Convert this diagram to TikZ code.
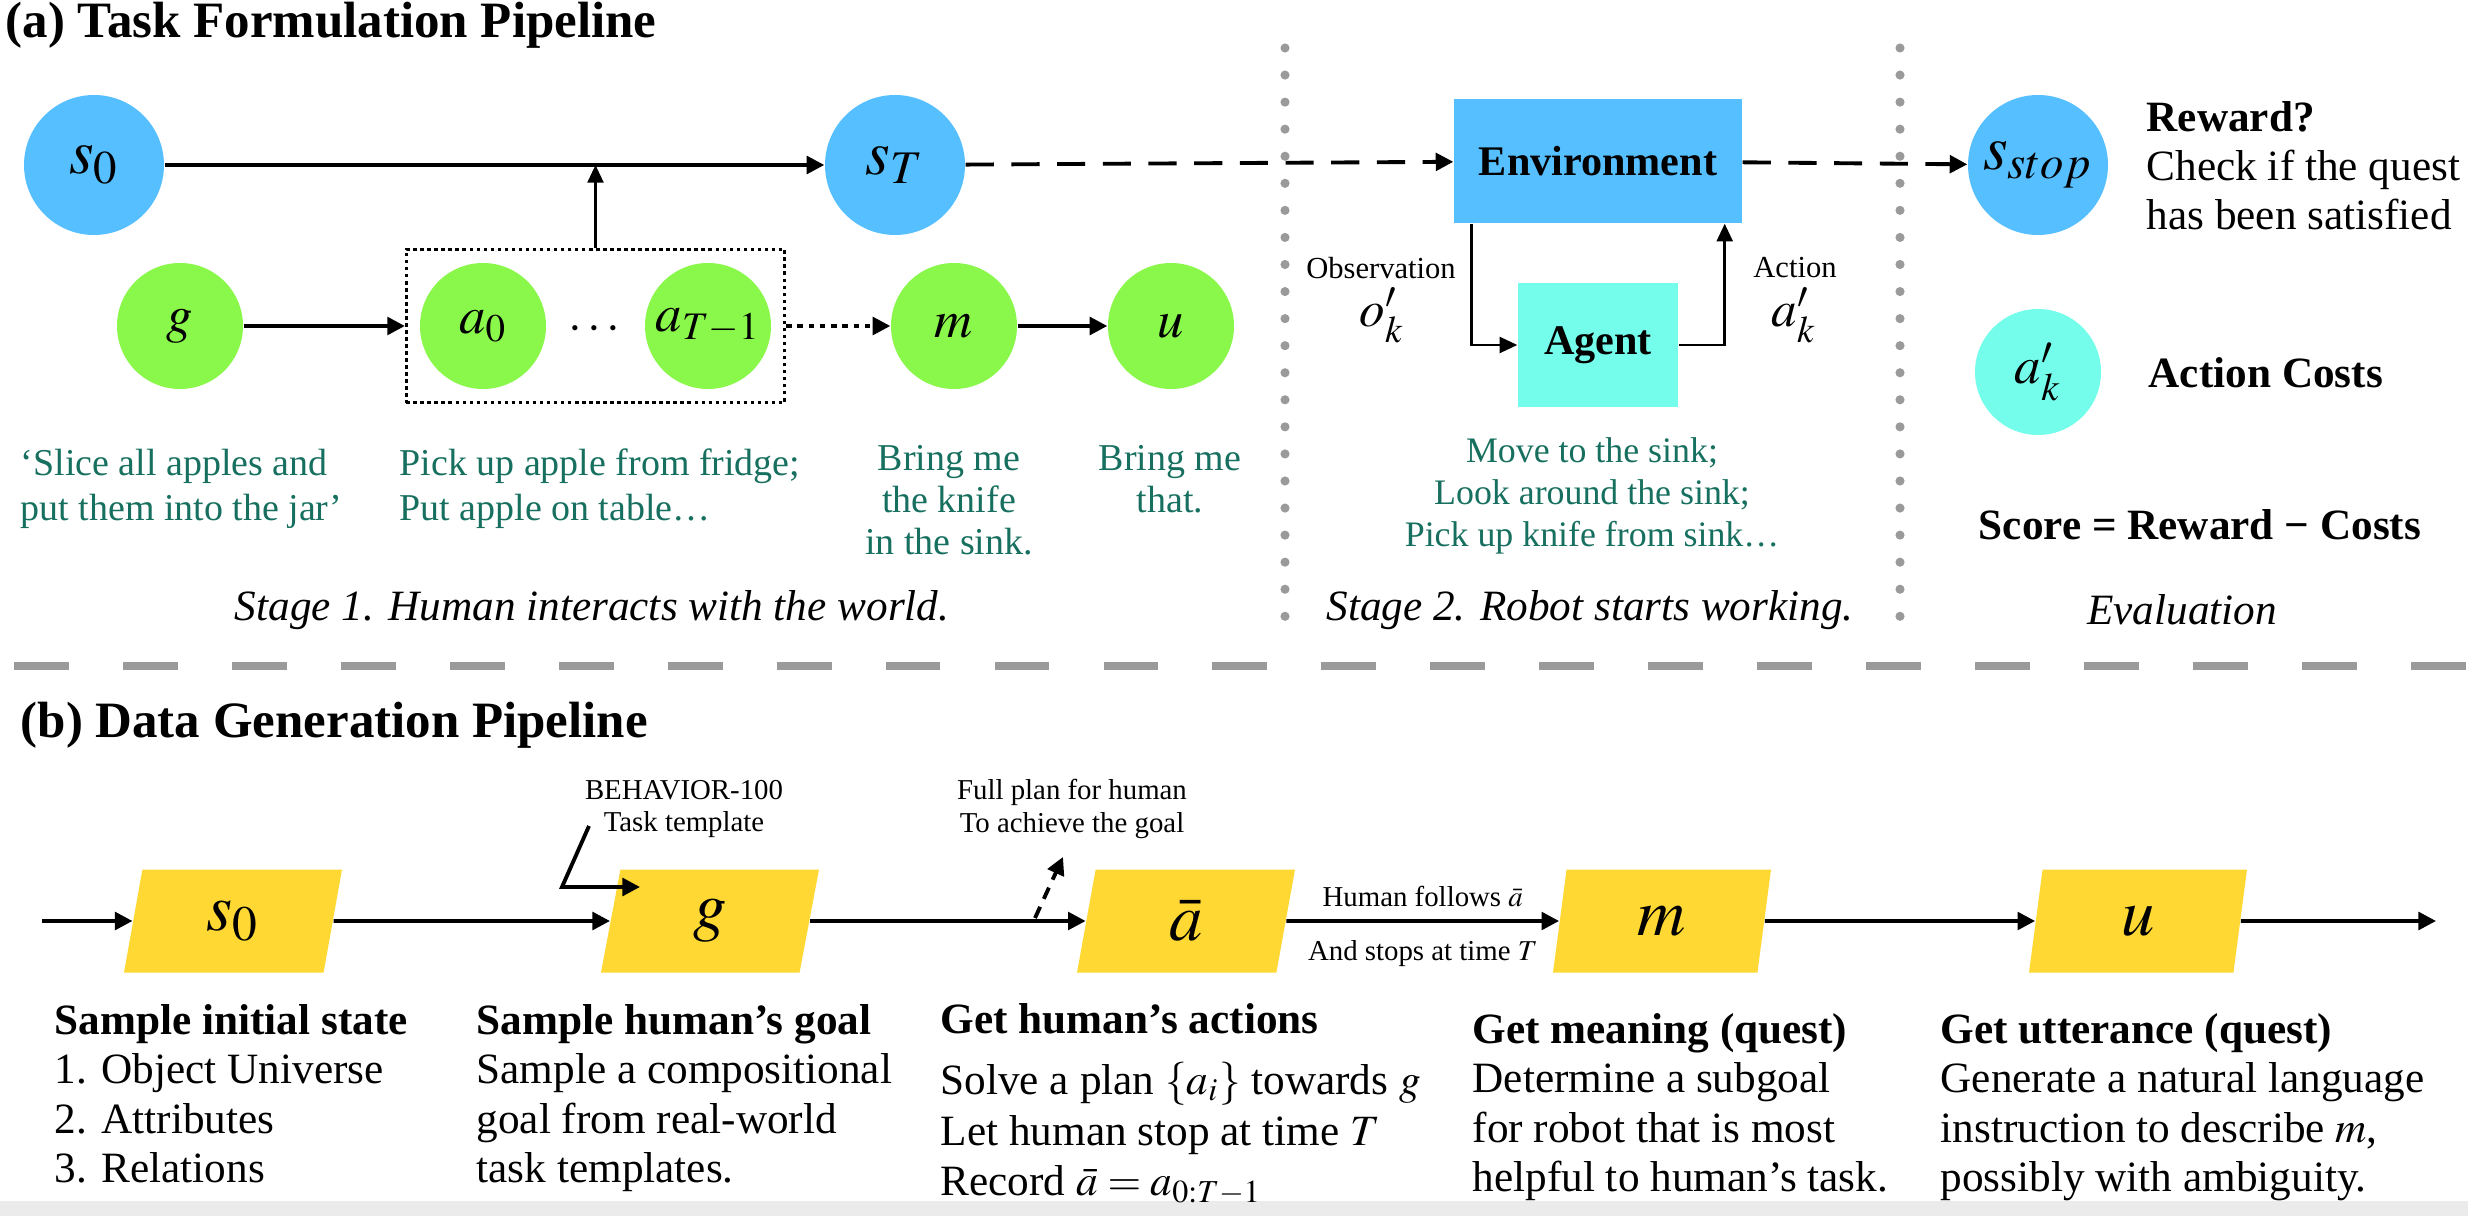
\documentclass[tikz,border=0pt]{standalone}
\usepackage{mathptmx}
\usepackage[no-math]{fontspec}
\setmainfont{Liberation Serif}
\usetikzlibrary{arrows.meta,shapes.geometric,fit,positioning}

\definecolor{stateblue}{HTML}{56BFFF}
\definecolor{actgreen}{HTML}{8AF74B}
\definecolor{agentcyan}{HTML}{73FDEA}
\definecolor{plgold}{HTML}{FFD833}
\definecolor{uttteal}{HTML}{17705F}
\definecolor{sepgray}{HTML}{9A9A9A}

\newcommand{\sz}[2]{\fontsize{#1}{#2}\selectfont}

\begin{document}
\begin{tikzpicture}[
  state/.style={circle, fill=stateblue, minimum size=1.4cm, inner sep=0pt, font=\sz{18}{20}},
  act/.style={circle, fill=actgreen, minimum size=1.26cm, inner sep=0pt, font=\sz{15}{17}},
  box/.style={rectangle, minimum height=1.24cm, inner sep=0pt, font=\sz{12}{14}\bfseries},
  plg/.style={trapezium, trapezium left angle=65.5, trapezium right angle=114.5,
    trapezium stretches body, fill=plgold, minimum width=2.18cm, minimum height=1.03cm,
    inner sep=0pt, font=\sz{19}{21}},
  flow/.style={line width=1.1pt, -{Triangle[length=5pt,width=5pt]}},
  ctrl/.style={line width=0.75pt, -{Triangle[length=5pt,width=4.5pt]}},
  dashflow/.style={flow, dash pattern=on 8pt off 5pt},
  dotflow/.style={flow, dash pattern=on 1.6pt off 1.6pt},
  say/.style={text=uttteal, inner sep=0pt},
  note/.style={inner sep=0pt, font=\sz{12.3}{14}},
  small/.style={inner sep=0pt, font=\sz{8.2}{9.2}},
]
  \useasboundingbox (0,0) rectangle (24.68,-12.16);
  \fill[black!8] (0,-12.01) rectangle (24.68,-12.16);

  % (a) Task formulation
  \node[note, anchor=west, font=\sz{14.5}{17}\bfseries] (ta) at (0.05,-0.25) {(a) Task Formulation Pipeline};

  % States
  \node[state] (s0) at (0.94,-1.65) {$s_0$};
  \node[state] (sT) at (8.95,-1.65) {$s_T$};
  \node[state] (sstop) at (20.38,-1.65) {$s_{stop}$};

  % Human side
  \node[act] (g) at (1.80,-3.26) {$g$};
  \node[act] (a0) at (4.83,-3.26) {$a_0$};
  \node[font=\sz{14}{16}] (dots) at (5.94,-3.30) {$\cdots$};
  \node[act] (aT) at (7.08,-3.26) {$a_{T-1}$};
  \node[act] (m) at (9.54,-3.26) {$m$};
  \node[act] (u) at (11.71,-3.26) {$u$};
  \node[draw, line width=0.8pt, dash pattern=on 1pt off 1pt, fit=(a0)(aT), inner sep=0.13cm] (plan) {};

  % Robot side
  \node[box, fill=stateblue, minimum width=2.88cm] (env) at (15.98,-1.61) {Environment};
  \node[box, fill=agentcyan, minimum width=1.60cm] (agent) at (15.98,-3.45) {Agent};
  \node[small, font=\sz{8.7}{10}] (obs) at (13.81,-2.68) {Observation};
  \node[inner sep=0pt, font=\sz{14.5}{16}] (ok) at (13.82,-3.15) {$o'_k$};
  \node[small, font=\sz{8.7}{10}] (actn) at (17.95,-2.68) {Action};
  \node[inner sep=0pt, font=\sz{14.5}{16}] (ak) at (17.94,-3.15) {$a'_k$};

  % Evaluation
  \node[circle, fill=agentcyan, minimum size=1.26cm, inner sep=0pt, font=\sz{15}{17}] (cost) at (20.38,-3.72) {$a'_k$};
  \node[note, anchor=west, align=left] (rwd) at (21.46,-1.66) {\textbf{Reward?}\\Check if the quest\\has been satisfied};
  \node[note, anchor=west, font=\sz{12.3}{14}\bfseries] (costs) at (21.48,-3.73) {Action Costs};
  \node[note, font=\sz{12.3}{14}\bfseries] (score) at (22.00,-5.25) {Score = Reward − Costs};

  % Connections
  \draw[flow] (s0) -- (sT);
  \draw[dashflow] (sT) -- (env);
  \draw[dashflow] (env) -- (sstop);
  \draw[flow] (g) -- (plan);
  \draw[dotflow] (plan) -- (m);
  \draw[flow] (m) -- (u);
  \draw[ctrl] (plan) -- (plan |- s0);
  \draw[ctrl] ([xshift=0.18cm]env.south west) |- (agent);
  \draw[ctrl] (agent) -| ([xshift=-0.18cm]env.south east);

  % Utterances
  \node[say, anchor=north west, align=left, font=\sz{10.8}{12.8}] (ug) at (0.20,-4.48) {‘Slice all apples and\\put them into the jar’};
  \node[say, anchor=north west, align=left, font=\sz{10.8}{12.8}] (ua) at (3.99,-4.48) {Pick up apple from fridge;\\Put apple on table…};
  \node[say, anchor=north, align=center, font=\sz{10.8}{11.9}] (um) at (9.49,-4.45) {Bring me\\the knife\\in the sink.};
  \node[say, anchor=north, align=center, font=\sz{10.8}{11.9}] (uu) at (11.70,-4.45) {Bring me\\that.};
  \node[say, anchor=north, align=center, font=\sz{10.2}{12}] (ur) at (15.92,-4.37) {Move to the sink;\\Look around the sink;\\Pick up knife from sink…};

  % Stage captions
  \node[note, font=\sz{12.3}{14}\itshape] (st1) at (5.92,-6.10) {Stage 1. Human interacts with the world.};
  \node[note, font=\sz{12.3}{14}\itshape] (st2) at (15.90,-6.10) {Stage 2. Robot starts working.};
  \node[note, font=\sz{12.3}{14}\itshape] (st3) at (21.82,-6.10) {Evaluation};

  % Separators
  \foreach \x in {12.85, 19.00} {
    \draw[sepgray, line width=2.6pt, line cap=round, dash pattern=on 0pt off 7.7pt] (\x,-0.48) -- (\x,-6.20);
  }
  \draw[sepgray, line width=2.3pt, dash pattern=on 15.6pt off 15.4pt] (0.14,-6.66) -- (24.68,-6.66);

  % (b) Data generation
  \node[note, anchor=west, font=\sz{14.5}{17}\bfseries] (tb) at (0.20,-7.25) {(b) Data Generation Pipeline};

  \foreach \n/\x/\t in {p0/2.33/s_0, pg/7.10/g, pa/11.86/\bar{a}, pm/16.62/m, pu/21.38/u} {
    \node[plg] (\n) at (\x,-9.21) {$\t$};
  }
  \coordinate (tail) at (0.42,-9.21);
  \coordinate (head) at (24.36,-9.21);
  \draw[flow] (tail) -- (p0);
  \foreach \a/\b in {p0/pg, pg/pa, pm/pu} {
    \draw[flow] (\a) -- (\b);
  }
  \draw[flow] (pa) -- node[small, above=3.5pt] {Human follows $\bar{a}$} node[small, below=5pt] {And stops at time $T$} (pm);
  \draw[flow] (pu) -- (head);

  % Side notes
  \node[small, align=center] (bhv) at (6.84,-8.09) {BEHAVIOR-100\\Task template};
  \coordinate (bhvfrom) at (5.89,-8.26);
  \coordinate (bhvbend) at (5.62,-8.87);
  \coordinate (bhvto) at (6.40,-8.87);
  \draw[flow] (bhvfrom) -- (bhvbend) -- (bhvto);
  \node[small, align=center] (full) at (10.72,-8.09) {Full plan for human\\To achieve the goal};
  \coordinate (fullfrom) at (10.35,-9.18);
  \coordinate (fullto) at (10.63,-8.57);
  \draw[flow, dash pattern=on 3.5pt off 2.5pt] (fullfrom) -- (fullto);

  % Step descriptions
  \node[note, anchor=north west, align=left] (c1) at (0.54,-10.04) {\textbf{Sample initial state}\\1. Object Universe\\2. Attributes\\3. Relations};
  \node[note, anchor=north west, align=left] (c2) at (4.76,-10.04) {\textbf{Sample human’s goal}\\Sample a compositional\\goal from real-world\\task templates.};
  \node[note, anchor=north west, align=left, font=\sz{12.3}{14.2}] (c3) at (9.40,-10.03) {\textbf{Get human’s actions}\\[3pt]Solve a plan $\{a_i\}$ towards $g$\\[0.5pt]Let human stop at time $T$\\Record $\bar{a}=a_{0:T-1}$};
  \node[note, anchor=north west, align=left] (c4) at (14.72,-10.13) {\textbf{Get meaning (quest)}\\Determine a subgoal\\for robot that is most\\helpful to human’s task.};
  \node[note, anchor=north west, align=left] (c5) at (19.40,-10.13) {\textbf{Get utterance (quest)}\\Generate a natural language\\instruction to describe $m$,\\possibly with ambiguity.};
\end{tikzpicture}
\end{document}
